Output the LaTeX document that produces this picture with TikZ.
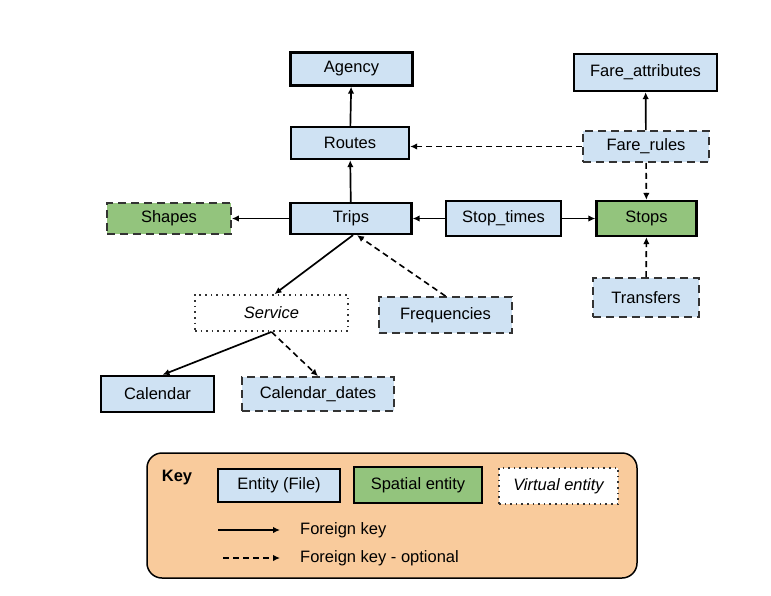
\documentclass[tikz,border=0pt]{standalone}
\usepackage{fontspec}
\setmainfont{Liberation Sans}
\usetikzlibrary{arrows.meta,positioning}
\definecolor{entity}{HTML}{CFE2F3}
\definecolor{spatial}{HTML}{93C47D}
\definecolor{keybg}{HTML}{F9CB9C}
\definecolor{ink}{HTML}{000000}
\definecolor{dim}{HTML}{333333}
\tikzset{
  >={Latex[length=7pt,width=6.5pt]},
  every node/.style={font=\fontsize{16.5}{19}\selectfont,text=ink},
  box/.style={draw=ink,line width=2.3pt,fill=entity,align=center,inner sep=2pt},
  spatialbox/.style={box,fill=spatial},
  optbox/.style={box,draw=dim,line width=1.8pt,dash pattern=on 8pt off 5pt},
  optspatial/.style={optbox,fill=spatial},
  virtbox/.style={box,fill=white,draw=dim,line width=1.8pt,dash pattern=on 1.6pt off 4pt,font=\fontsize{16.5}{19}\selectfont\itshape},
  fk/.style={->,line width=1.7pt,draw=ink},
  fkopt/.style={->,line width=1.6pt,draw=ink,dash pattern=on 6pt off 4pt},
  keyframe/.style={draw=ink,line width=1.5pt,fill=keybg,rounded corners=15pt},
}
\begin{document}
\begin{tikzpicture}[x=1pt,y=-1pt]
\useasboundingbox (0,0) rectangle (771,595);

% ---------- entities ----------
\node[box,minimum width=122,minimum height=33] (agency) at (351.5,69) {Agency};
\node[box,minimum width=118,minimum height=32] (routes) at (350,143) {Routes};
\node[box,minimum width=121,minimum height=31] (trips) at (351,218.5) {Trips};
\node[optspatial,minimum width=124,minimum height=31] (shapes) at (169,218.5) {Shapes};
\node[box,minimum width=115,minimum height=35] (stoptimes) at (503.5,218.5) {Stop\_times};
\node[spatialbox,minimum width=100,minimum height=35] (stops) at (646.5,218.5) {Stops};
\node[box,minimum width=143,minimum height=37] (fareattr) at (645.5,72.5) {Fare\_attributes};
\node[optbox,minimum width=126,minimum height=31] (farerules) at (646,146.5) {Fare\_rules};
\node[optbox,minimum width=106,minimum height=39] (transfers) at (646,297.5) {Transfers};
\node[virtbox,minimum width=153,minimum height=36] (service) at (271.5,313) {Service};
\node[optbox,minimum width=133,minimum height=36] (freq) at (445.5,315) {Frequencies};
\node[box,minimum width=113,minimum height=36] (calendar) at (157.5,394) {Calendar};
\node[optbox,minimum width=152,minimum height=34] (caldates) at (318,394) {Calendar\_dates};

% ---------- foreign keys ----------
\draw[fk] (routes) -- (agency);
\draw[fk] (trips) -- (routes);
\draw[fk] (trips) -- (shapes);
\draw[fk] (stoptimes) -- (trips);
\draw[fk] (stoptimes) -- (stops);
\draw[fk] (farerules) -- (fareattr);
\draw[fkopt] (farerules.west) -- (routes.east |- farerules.west);
\draw[fkopt] (farerules) -- (stops);
\draw[fkopt] (transfers) -- (stops);
\draw[fk] ([xshift=2]trips.south) -- ([xshift=3]service.north);
\draw[fkopt] (freq.north) -- ([xshift=6]trips.south);
\draw[fk] (service.south) -- ([xshift=5]calendar.north);
\draw[fkopt] (service.south) -- (caldates.north);

% ---------- key ----------
\node[keyframe,minimum width=490,minimum height=125] (keybox) at (392,515.5) {};
\node[font=\fontsize{16.5}{19}\selectfont\bfseries] (keylbl) at (177,478) {Key};
\node[box,minimum width=122,minimum height=33] (kentity) at (279,485.5) {Entity (File)};
\node[spatialbox,minimum width=128,minimum height=36] (kspatial) at (418,485) {Spatial entity};
\node[virtbox,minimum width=119,minimum height=36] (kvirtual) at (558.5,486) {Virtual entity};
\coordinate (fka) at (218,530);
\coordinate (fkb) at (280,530);
\coordinate (fkoa) at (223,558);
\coordinate (fkob) at (280,558);
\draw[fk] (fka) -- (fkb);
\draw[fkopt] (fkoa) -- (fkob);
\node[anchor=west,inner sep=0] (kfk) at (300,530) {Foreign key};
\node[anchor=west,inner sep=0] (kfkopt) at (300,558) {Foreign key - optional};

\end{tikzpicture}
\end{document}
